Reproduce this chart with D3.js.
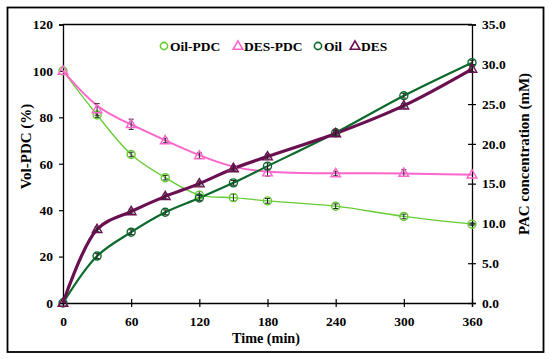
<!DOCTYPE html>
<html>
<head>
<meta charset="utf-8">
<script src="https://cdn.jsdelivr.net/npm/d3@7"></script>
<style>
  body { margin: 0; background: #fff; }
  svg text { font-family: "Liberation Serif", "Times New Roman", serif; font-weight: bold; }
</style>
</head>
<body>
<div id="viz"></div>
<script>
let times = [0, 30, 60, 90, 120, 150, 180, 240, 300, 360];
// left axis (%)
let oil_pdc = [100, 81, 64, 54, 46.5, 45.4, 44, 41.7, 37.3, 34];
let oil_pdc_err = [0, 1, 1, 1, 1.5, 1.5, 1, 1, 1, 0.5];
let des_pdc = [100, 83.4, 77, 70, 63.5, 58.2, 56.2, 55.8, 56, 55.3];
let des_pdc_err = [0, 2.5, 2.2, 1, 1.2, 1, 1.5, 1, 1.5, 0];
// right axis (mM)
let oil = [0, 5.9, 8.9, 11.4, 13.2, 15.1, 17.2, 21.4, 26.05, 30.2];
let oil_err = [0, 0.3, 0.3, 0.3, 0.3, 0.3, 0.4, 0.3, 0.3, 0.3];
let des = [0, 9.26, 11.5, 13.4, 15.0, 16.9, 18.4, 21.3, 24.8, 29.4];
let des_err = [0, 0.3, 0.3, 0.3, 0.3, 0.3, 0.3, 0.3, 0.3, 0.3];
let x_ticks = [0, 60, 120, 180, 240, 300, 360];
let yl_ticks = [0, 20, 40, 60, 80, 100, 120];
let yr_ticks = [0, 5, 10, 15, 20, 25, 30, 35];
let legend_names = ['Oil-PDC', 'DES-PDC', 'Oil', 'DES'];
let colors = ['#66cc33', '#ff66cc', '#0b6a2a', '#6a1050'];

window.onload = function () {
    draw()
}

function draw() {
    const width = 550, height = 359;
    const left = 63, right = 472, top = 24.5, bottom = 303;

    const svg = d3.select('#viz').append('svg')
        .attr('width', width)
        .attr('height', height);

    // outer frame
    svg.append('rect')
        .attr('x', 7.5).attr('y', 7.5)
        .attr('width', 536).attr('height', 344.5)
        .attr('fill', 'none').attr('stroke', '#000').attr('stroke-width', 1.8);

    const x = d3.scaleLinear().domain([0, 360]).range([left, right]);
    const yl = d3.scaleLinear().domain([0, 120]).range([bottom, top]);
    const yr = d3.scaleLinear().domain([0, 35]).range([bottom, top]);

    // top line of plot box
    svg.append('line')
        .attr('x1', left).attr('x2', right).attr('y1', top).attr('y2', top)
        .attr('stroke', '#000').attr('stroke-width', 1.3);

    const xAxis = svg.append('g')
        .attr('transform', 'translate(0,' + bottom + ')')
        .call(d3.axisBottom(x).tickValues(x_ticks).tickSize(4).tickFormat(d3.format('d')));
    xAxis.selectAll('.tick line').attr('y1', -4).attr('y2', 4);
    xAxis.selectAll('.tick text').attr('y', 13);

    const ylAxis = svg.append('g')
        .attr('transform', 'translate(' + left + ',0)')
        .call(d3.axisLeft(yl).tickValues(yl_ticks).tickSize(4).tickFormat(d3.format('d')));
    ylAxis.selectAll('.tick text').attr('x', -10);

    const yrAxis = svg.append('g')
        .attr('transform', 'translate(' + right + ',0)')
        .call(d3.axisRight(yr).tickValues(yr_ticks).tickSize(4).tickFormat(d3.format('.1f')));
    yrAxis.selectAll('.tick line').attr('x1', -4).attr('x2', 4);
    yrAxis.selectAll('.tick text').attr('x', 10);

    svg.selectAll('.domain').attr('stroke', '#000').attr('stroke-width', 1.3);
    svg.selectAll('.tick line').attr('stroke', '#000').attr('stroke-width', 1.2);
    svg.selectAll('.tick text')
        .attr('fill', '#000')
        .style('font-size', '13.5px')
        .style('font-family', '"Liberation Serif", serif')
        .style('font-weight', 'bold');

    // axis titles
    svg.append('text')
        .attr('transform', 'translate(31,146.5) rotate(-90)')
        .attr('text-anchor', 'middle')
        .style('font-size', '15px')
        .text('Vol-PDC (%)');
    svg.append('text')
        .attr('transform', 'translate(529,154) rotate(-90)')
        .attr('text-anchor', 'middle')
        .style('font-size', '15px')
        .text('PAC concentration (mM)');
    svg.append('text')
        .attr('x', 266).attr('y', 343)
        .attr('text-anchor', 'middle')
        .style('font-size', '14.2px')
        .text('Time (min)');

    const series = [
        {vals: oil_pdc, err: oil_pdc_err, y: yl, color: colors[0], w: 1.3, shape: 'circle', curve: d3.curveCatmullRom},
        {vals: des_pdc, err: des_pdc_err, y: yl, color: colors[1], w: 2, shape: 'triangle', curve: d3.curveBasis},
        {vals: oil, err: oil_err, y: yr, color: colors[2], w: 2.2, shape: 'circle', curve: d3.curveCatmullRom},
        {vals: des, err: des_err, y: yr, color: colors[3], w: 3.2, shape: 'triangle', curve: d3.curveCatmullRom}
    ];

    const tri = d3.symbol().type(d3.symbolTriangle).size(40);

    series.forEach(function (s) {
        const pts = times.map((t, i) => ({t: t, v: s.vals[i], e: s.err[i]}));
        const line = d3.line().x(d => x(d.t)).y(d => s.y(d.v)).curve(s.curve);
        svg.append('path')
            .datum(pts)
            .attr('d', line)
            .attr('fill', 'none')
            .attr('stroke', s.color)
            .attr('stroke-width', s.w);
    });

    series.forEach(function (s) {
        const pts = times.map((t, i) => ({t: t, v: s.vals[i], e: s.err[i]}));
        const g = svg.append('g');
        // error bars
        const eb = g.selectAll('g.eb').data(pts.filter(d => d.e > 0)).join('g');
        eb.append('line')
            .attr('x1', d => x(d.t)).attr('x2', d => x(d.t))
            .attr('y1', d => s.y(d.v - d.e)).attr('y2', d => s.y(d.v + d.e))
            .attr('stroke', '#222').attr('stroke-width', 1);
        eb.append('line')
            .attr('x1', d => x(d.t) - 2.5).attr('x2', d => x(d.t) + 2.5)
            .attr('y1', d => s.y(d.v - d.e)).attr('y2', d => s.y(d.v - d.e))
            .attr('stroke', '#222').attr('stroke-width', 1);
        eb.append('line')
            .attr('x1', d => x(d.t) - 2.5).attr('x2', d => x(d.t) + 2.5)
            .attr('y1', d => s.y(d.v + d.e)).attr('y2', d => s.y(d.v + d.e))
            .attr('stroke', '#222').attr('stroke-width', 1);
        if (s.shape === 'circle') {
            g.selectAll('circle').data(pts).join('circle')
                .attr('cx', d => x(d.t)).attr('cy', d => s.y(d.v))
                .attr('r', 4)
                .attr('fill', 'none')
                .attr('stroke', s.color)
                .attr('stroke-width', 1.4);
        } else {
            g.selectAll('path').data(pts).join('path')
                .attr('d', tri)
                .attr('transform', d => 'translate(' + x(d.t) + ',' + (s.y(d.v) + 0.5) + ')')
                .attr('fill', 'none')
                .attr('stroke', s.color)
                .attr('stroke-width', 1.4);
        }
    });

    // legend
    const lx = [164, 238, 318, 355];
    const ly = 46;
    legend_names.forEach(function (name, i) {
        if (i % 2 === 0) {
            svg.append('circle')
                .attr('cx', lx[i]).attr('cy', ly).attr('r', 3.6)
                .attr('fill', 'none').attr('stroke', colors[i]).attr('stroke-width', 1.6);
        } else {
            svg.append('path')
                .attr('d', d3.symbol().type(d3.symbolTriangle).size(40))
                .attr('transform', 'translate(' + lx[i] + ',' + (ly + 0.5) + ')')
                .attr('fill', 'none').attr('stroke', colors[i]).attr('stroke-width', 1.6);
        }
        svg.append('text')
            .attr('x', lx[i] + 6).attr('y', ly + 4.5)
            .style('font-size', '13.5px')
            .text(name);
    });
}
</script>
</body>
</html>
